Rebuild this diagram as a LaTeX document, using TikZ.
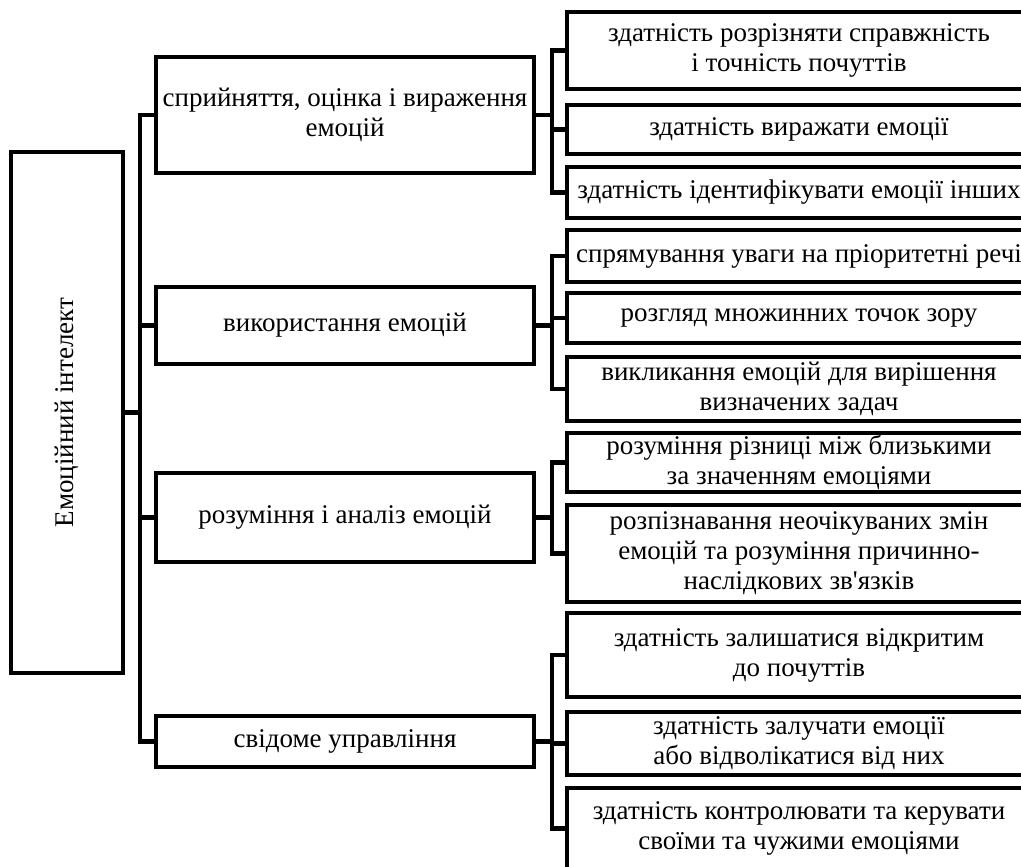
\documentclass[tikz,border=0pt]{standalone}
\usepackage{fontspec}
\setmainfont{Liberation Serif}[Ligatures=TeXOff]
\begin{document}
\begin{tikzpicture}[x=1pt,y=-1pt,
  box/.style={draw=black, line width=4.3pt, inner sep=0pt, align=center,
    font=\fontsize{27}{30}\selectfont},
  lvone/.style={box, minimum width=378pt},
  leaf/.style={box, minimum width=464pt},
  conn/.style={draw=black, line width=4.3pt, line cap=rect}]
\useasboundingbox (0,0) rectangle (1021,867);
\clip (0,0) rectangle (1021,867);
\coordinate (bA) at (140,0);
\coordinate (bB) at (552,0);
% root
\node[box, minimum width=111.5pt, minimum height=521pt,
  label={[rotate=90, font=\fontsize{27}{30}\selectfont]center:Емоційний інтелект}] (root) at (67,412.5) {};
% level one
\node[lvone, minimum height=116pt] (p1) at (345,115) {сприйняття, оцінка і вираження\\емоцій};
\node[lvone, minimum height=77pt] (p2) at (345,325.5) {використання емоцій};
\node[lvone, minimum height=89pt] (p3) at (345,517.5) {розуміння і аналіз емоцій};
\node[lvone, minimum height=51pt] (p4) at (345,741.5) {свідоме управління};
% leaves
\node[leaf, minimum height=77pt] (a) at (799,50.5) {здатність розрізняти справжність\\і точність почуттів};
\node[leaf, minimum height=49pt] (b) at (799,129.5) {здатність виражати емоції};
\node[leaf, minimum height=51pt] (c) at (799,192.5) {здатність ідентифікувати емоції інших};
\node[leaf, minimum height=52pt] (d) at (799,256) {спрямування уваги на пріоритетні речі};
\node[leaf, minimum height=50pt] (e) at (799,318) {розгляд множинних точок зору};
\node[leaf, minimum height=64pt] (f) at (799,389) {викликання емоцій для вирішення\\визначених задач};
\node[leaf, minimum height=59pt] (g) at (799,462.5) {розуміння різниці між близькими\\за значенням емоціями};
\node[leaf, minimum height=97pt] (h) at (799,553.5) {розпізнавання неочікуваних змін\\емоцій та розуміння причинно-\\наслідкових зв'язків};
\node[leaf, minimum height=84pt] (i) at (799,655) {здатність залишатися відкритим\\до почуттів};
\node[leaf, minimum height=63pt] (j) at (799,743.5) {здатність залучати емоції\\або відволікатися від них};
\node[leaf, minimum height=81pt] (k) at (799,828.5) {здатність контролювати та керувати\\своїми та чужими емоціями};
% connectors root -> level one
\draw[conn] (root.east) -- (root.east -| bA);
\draw[conn] (p1.west -| bA) -- (p4.west -| bA);
\foreach \n in {p1,p2,p3,p4} \draw[conn] (\n.west -| bA) -- (\n.west);
% level one -> leaves
\draw[conn] (p1.east) -- (p1.east -| bB);
\draw[conn] (a.west -| bB) -- (c.west -| bB);
\foreach \n in {a,b,c} \draw[conn] (\n.west -| bB) -- (\n.west);
\draw[conn] (p2.east) -- (p2.east -| bB);
\draw[conn] (d.west -| bB) -- (f.west -| bB);
\foreach \n in {d,e,f} \draw[conn] (\n.west -| bB) -- (\n.west);
\draw[conn] (p3.east) -- (p3.east -| bB);
\draw[conn] (g.west -| bB) -- (h.west -| bB);
\foreach \n in {g,h} \draw[conn] (\n.west -| bB) -- (\n.west);
\draw[conn] (p4.east) -- (p4.east -| bB);
\draw[conn] (i.west -| bB) -- (k.west -| bB);
\foreach \n in {i,j,k} \draw[conn] (\n.west -| bB) -- (\n.west);
\end{tikzpicture}
\end{document}
